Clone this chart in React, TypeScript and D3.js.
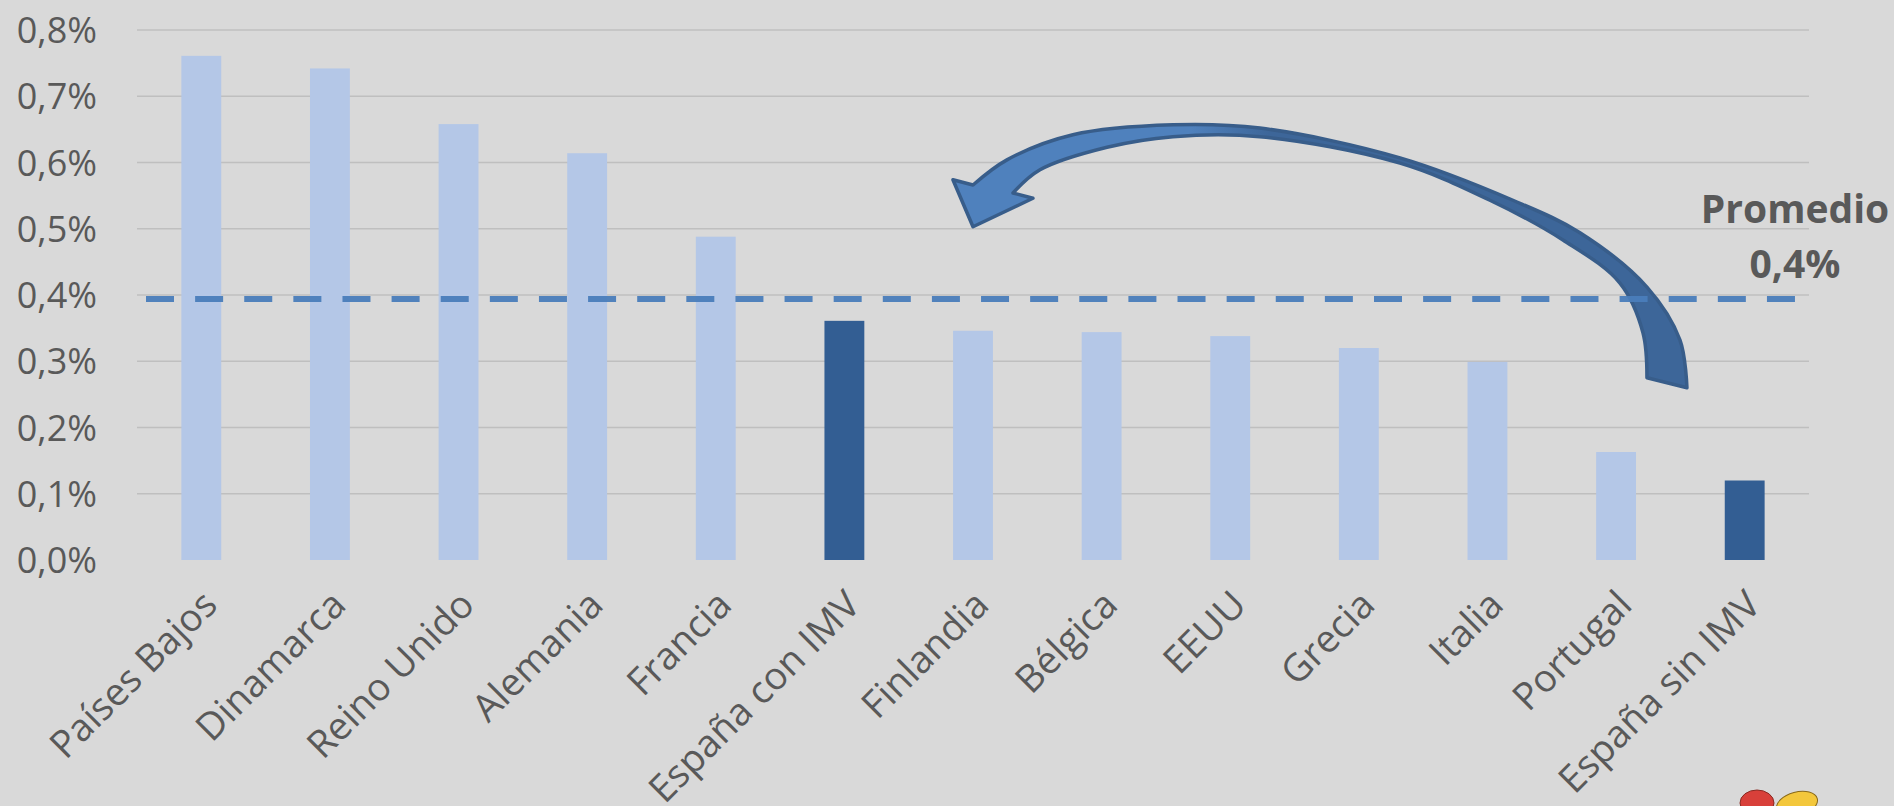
import * as d3 from "d3";

const categories = [
  "Países Bajos",
  "Dinamarca",
  "Reino Unido",
  "Alemania",
  "Francia",
  "España con IMV",
  "Finlandia",
  "Bélgica",
  "EEUU",
  "Grecia",
  "Italia",
  "Portugal",
  "España sin IMV",
];
const values = [0.761, 0.742, 0.658, 0.614, 0.488, 0.361, 0.346, 0.344, 0.338, 0.32, 0.299, 0.163, 0.12];
const highlighted = ["España con IMV", "España sin IMV"];
const yTicks = [0, 0.1, 0.2, 0.3, 0.4, 0.5, 0.6, 0.7, 0.8];
const yTickLabels = ["0,0%", "0,1%", "0,2%", "0,3%", "0,4%", "0,5%", "0,6%", "0,7%", "0,8%"];
const average = 0.394;
const averageLabel = ["Promedio", "0,4%"];

// arrow annotation in chart units: [category position, value %]
const arrowOuter = [
  [12.051, 0.26], [11.997, 0.332], [11.74, 0.412], [11.219, 0.494], [10.698, 0.543],
  [9.82, 0.607], [8.731, 0.652], [8.055, 0.657], [7.277, 0.642], [6.764, 0.604], [6.5, 0.566],
];
const arrowHead = [[6.344, 0.574], [6.5, 0.503], [6.966, 0.546], [6.811, 0.554]];
const arrowInner = [
  [6.811, 0.554], [7.021, 0.589], [7.542, 0.623], [8.055, 0.639], [8.731, 0.639],
  [9.82, 0.599], [10.519, 0.543], [11.087, 0.483], [11.53, 0.418], [11.709, 0.343], [11.74, 0.275],
];

const W = 1894;
const H = 806;
const left = 137;
const right = 1809;
const top = 30;
const bottom = 560;

export default function App() {
  const x = d3
    .scaleBand()
    .domain(categories)
    .range([left, right])
    .paddingInner(0.69)
    .paddingOuter(0.345);
  const xPos = d3.scaleLinear().domain([0, categories.length]).range([left, right]);
  const y = d3.scaleLinear().domain([0, 0.8]).range([bottom, top]);

  const curve = d3
    .line<number[]>()
    .x((d) => xPos(d[0]))
    .y((d) => y(d[1]))
    .curve(d3.curveCatmullRom.alpha(0.5));
  const straight = d3
    .line<number[]>()
    .x((d) => xPos(d[0]))
    .y((d) => y(d[1]));
  const arrowPath =
    curve(arrowOuter) +
    straight(arrowHead).replace("M", "L") +
    curve(arrowInner).replace("M", "L") +
    "Z";

  const font = "'Open Sans', sans-serif";
  const textColor = "#595959";

  return (
    <svg
      width={W}
      height={H}
      style={{ position: "absolute", left: 0, top: 0, display: "block" }}
    >
      <defs>
        <linearGradient id="arrowFill" gradientUnits="userSpaceOnUse" x1={xPos(8.2)} x2={xPos(8.8)} y1={0} y2={0}>
          <stop offset="0" stopColor="#4f81bd" />
          <stop offset="1" stopColor="#3d6699" />
        </linearGradient>
      </defs>
      <rect width={W} height={H} fill="#d9d9d9" />

      {yTicks.slice(1).map((t) => (
        <line key={t} x1={left} x2={right} y1={y(t)} y2={y(t)} stroke="#bfbfbf" strokeWidth={1.5} />
      ))}

      {yTicks.map((t, i) => (
        <text
          key={t}
          x={97}
          y={y(t) + 13}
          textAnchor="end"
          fontFamily={font}
          fontSize={36}
          fill={textColor}
        >
          {yTickLabels[i]}
        </text>
      ))}

      {categories.map((c, i) => (
        <rect
          key={c}
          x={x(c)}
          y={y(values[i])}
          width={x.bandwidth()}
          height={y(0) - y(values[i])}
          fill={highlighted.includes(c) ? "#335e93" : "#b4c7e7"}
        />
      ))}

      {categories.map((c) => {
        const cx = (x(c) as number) + x.bandwidth() / 2 + 18;
        return (
          <text
            key={c}
            transform={`translate(${cx},607) rotate(-45)`}
            textAnchor="end"
            fontFamily={font}
            fontSize={38}
            fill={textColor}
          >
            {c}
          </text>
        );
      })}

      <path d={arrowPath} fill="url(#arrowFill)" stroke="#385d8a" strokeWidth={3.5} strokeLinejoin="round" />

      <line
        x1={left + 9}
        x2={right}
        y1={y(average)}
        y2={y(average)}
        stroke="#4a7ebb"
        strokeWidth={6}
        strokeDasharray="28 21.12"
        opacity={0.95}
      />

      <text
        x={right - 14}
        y={y(average) - 76}
        textAnchor="middle"
        fontFamily={font}
        fontWeight="bold"
        fontSize={39}
        fill={textColor}
      >
        {averageLabel[0]}
      </text>
      <text
        x={right - 14}
        y={y(average) - 21}
        textAnchor="middle"
        fontFamily={font}
        fontWeight="bold"
        fontSize={39}
        fill={textColor}
      >
        {averageLabel[1]}
      </text>

      <ellipse cx={1757} cy={803} rx={17} ry={13} fill="#d8403a" stroke="#8a2a22" strokeWidth={1} />
      <ellipse
        cx={1797}
        cy={804}
        rx={21}
        ry={12}
        transform="rotate(-15 1797 804)"
        fill="#f3c73c"
        stroke="#8a6a1a"
        strokeWidth={1}
      />
    </svg>
  );
}
